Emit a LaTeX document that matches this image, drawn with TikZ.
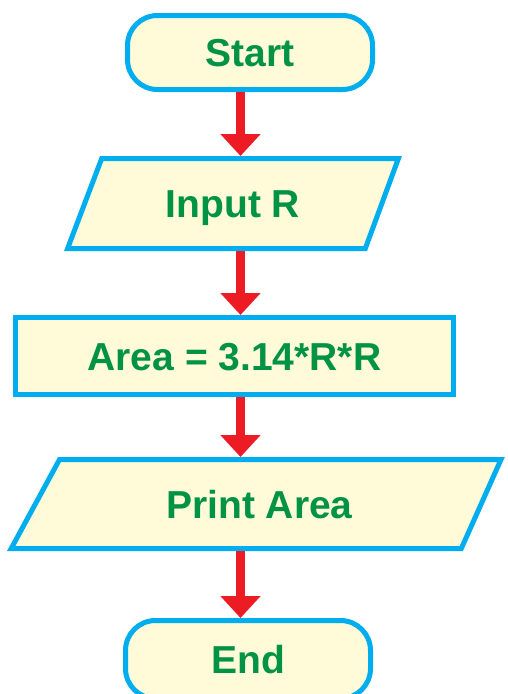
\documentclass[tikz,border=0pt]{standalone}
\usepackage{fontspec}
\setmainfont{Liberation Sans}
\usetikzlibrary{arrows.meta}

\definecolor{flowblue}{HTML}{00AEEF}
\definecolor{flowfill}{HTML}{FFFAD7}
\definecolor{flowgreen}{HTML}{009245}
\definecolor{flowred}{HTML}{ED1C24}

\tikzset{
  labeltext/.style={font=\fontsize{39}{39}\selectfont\bfseries, text=flowgreen,
    text height=28pt, text depth=0pt, inner sep=0pt},
  boxline/.style={draw=flowblue, line width=5pt, fill=flowfill},
  terminal/.style={boxline, labeltext, rectangle, rounded corners=30pt,
    minimum width=245pt, minimum height=74pt, outer sep=2.5pt},
  process/.style={boxline, labeltext, rectangle,
    minimum width=438pt, minimum height=77pt, outer sep=2.5pt},
  iobox/.style={labeltext, rectangle, outer sep=2.5pt},
  flow/.style={draw=flowred, line width=9pt, line cap=butt,
    -{Triangle[width=39pt,length=22pt]}},
}

\begin{document}
\begin{tikzpicture}[x=1pt,y=-1pt]
  \useasboundingbox (0,0) rectangle (507,694);

  % terminals and process box
  \node[terminal] (start) at (250,52.5) {Start};
  \node[process]  (area)  at (234.5,356) {Area = 3.14*R*R};
  \node[terminal, minimum height=78pt] (end) at (248,659.5) {End};

  % input / output parallelograms
  \path[boxline] (101.7,158.5) -- (398.4,158.5) -- (365.3,248.5) -- (67.6,248.5) -- cycle;
  \node[iobox, minimum height=90pt] (input) at (233,203.5) {Input R};

  \path[boxline] (59.5,459.5) -- (501,459.5) -- (461.3,548.5) -- (11.2,548.5) -- cycle;
  \node[iobox, minimum height=89pt] (print) at (259.5,504) {Print Area};

  % flow arrows along a common vertical line
  \coordinate (ax) at (240.5,0);
  \draw[flow] (start.south -| ax) -- (input.north -| ax);
  \draw[flow] (input.south -| ax) -- (area.north -| ax);
  \draw[flow] (area.south -| ax)  -- (print.north -| ax);
  \draw[flow] (print.south -| ax) -- (end.north -| ax);
\end{tikzpicture}
\end{document}
